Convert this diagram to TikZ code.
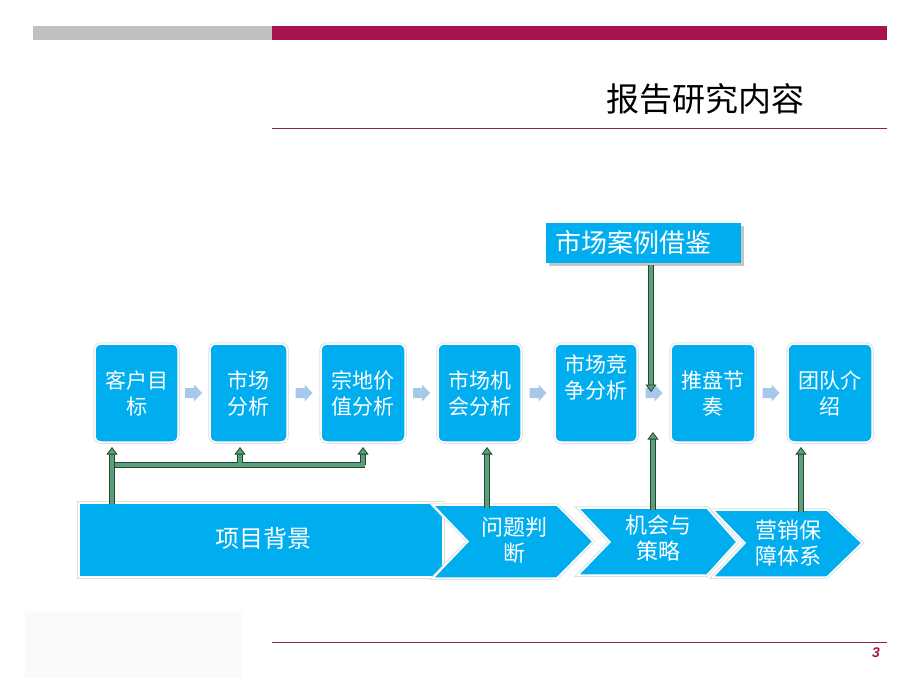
\documentclass[tikz,border=0pt]{standalone}
\usepackage{fontspec}
\setmainfont{Noto Sans CJK SC}
\newfontfamily\numfont{Liberation Sans}
\usetikzlibrary{arrows.meta,shadows}
\definecolor{crimson}{HTML}{A8124F}
\definecolor{lineclr}{HTML}{8A1F50}
\definecolor{bargray}{HTML}{C0C0C0}
\definecolor{boxblue}{HTML}{00AEEF}
\definecolor{pale}{HTML}{A7C8EA}
\definecolor{gdark}{HTML}{1E4A2E}
\definecolor{glight}{HTML}{5E9E7C}
\definecolor{footgray}{HTML}{FAFAFA}
\begin{document}
\begin{tikzpicture}[x=1pt,y=-1pt,
  stage/.style={rounded corners=6pt, fill=boxblue, draw=white, line width=1.5pt,
    preaction={draw=black!12, line width=3.5pt}, minimum height=98, text=white,
    align=center, font=\fontsize{21}{26}\selectfont, inner sep=2pt},
  flowpt/.style={coordinate},
  flowshape/.style={fill=pale},
  chev/.style={fill=boxblue, draw=white, line width=1.5pt, line join=miter,
    preaction={draw=black!12, line width=3.5pt}},
  ctext/.style={text=white, align=center, font=\fontsize{22}{26}\selectfont},
  garrow/.style={draw=gdark, line width=5.5pt, shorten >=6pt,
    postaction={draw=glight, line width=3.3pt, shorten >=5pt},
    postaction={draw=glight, line width=0.8pt, shorten >=0pt,
      -{Triangle[width=11pt, length=7.5pt, color=gdark, fill=glight]}}},
  gbar/.style={draw=gdark, line width=5.5pt,
    postaction={draw=glight, line width=3.3pt}},
  gbarin/.style={draw=glight, line width=3.3pt},
]
\useasboundingbox (0,0) rectangle (920,690);

% header bars
\fill[bargray] (33,26) rectangle (272,40);
\fill[crimson] (272,26) rectangle (887,40);
\node[anchor=center, font=\fontsize{33}{36}\selectfont] (title) at (705,99) {报告研究内容};
\draw[lineclr, line width=1pt] (272,128) -- (887,128);

% footer
\fill[footgray] (25,612) rectangle (242,678);
\draw[lineclr, line width=1pt] (272,642) -- (887,642);
\node[text=crimson, font=\numfont\bfseries\itshape\fontsize{14}{16}\selectfont] (pg) at (876,653) {3};

% stage boxes
\node[stage, minimum width=83] (b1) at (136.5,393) {客户目\\标};
\node[stage, minimum width=77] (b2) at (248.5,393) {市场\\分析};
\node[stage, minimum width=84] (b3) at (363,393) {宗地价\\值分析};
\node[stage, minimum width=83] (b4) at (479.5,393) {市场机\\会分析};
\node[stage, minimum width=82] (b5) at (596,393) {市场竞\\争分析\\\strut};
\node[stage, minimum width=84] (b6) at (713,393) {推盘节\\奏};
\node[stage, minimum width=84] (b7) at (830,393) {团队介\\绍};

% small flow arrows
\node[flowpt] (f1) at (193.5,393) {};
\node[flowpt] (f2) at (304,393) {};
\node[flowpt] (f3) at (421.5,393) {};
\node[flowpt] (f4) at (538,393) {};
\node[flowpt] (f5) at (654,393) {};
\node[flowpt] (f6) at (771,393) {};
\foreach \f in {f1,f2,f3,f4,f5,f6}{
  \fill[flowshape, shift={(\f)}] (-8.5,-5) -- (0.5,-5) -- (0.5,-8.5) -- (8.5,0)
    -- (0.5,8.5) -- (0.5,5) -- (-8.5,5) -- cycle;
}

% case box
\node[fill=boxblue, minimum width=195, minimum height=40, text width=177, inner xsep=9pt,
  align=left, text=white, font=\fontsize{26}{28}\selectfont,
  drop shadow={opacity=0.45, shadow xshift=2.5pt, shadow yshift=-2.5pt}] (case) at (643.5,243) {市场案例借鉴};

% bottom chevrons
\filldraw[chev] (79,503) rectangle (443,577);
\node[ctext, font=\fontsize{24}{28}\selectfont] (bg) at (263,538) {项目背景};
\filldraw[chev] (433,505) -- (557,505) -- (593,541.5) -- (557,578) -- (433,578) -- (468,541.5) -- cycle;
\node[ctext] (wt) at (514,540) {问题判\\断};
\filldraw[chev] (578,508) -- (707,508) -- (737,542) -- (707,575) -- (578,575) -- (610,542) -- cycle;
\node[ctext] (jh) at (658,538) {机会与\\策略};
\filldraw[chev] (713,510) -- (827,510) -- (862,543) -- (827,577) -- (713,577) -- (745,543) -- cycle;
\node[ctext] (yx) at (788,543) {营销保\\障体系};

% connector anchor points
\coordinate (s1) at (112,504);
\coordinate (e1) at (112,447);
\coordinate (barL) at (112,465);
\coordinate (barR) at (365,465);
\coordinate (s2) at (240,465);
\coordinate (e2) at (240,447);
\coordinate (s3) at (363,465);
\coordinate (e3) at (363,447);
\coordinate (s4) at (487,508);
\coordinate (e4) at (487,447);
\coordinate (s5) at (653,510);
\coordinate (e5) at (653,432);
\coordinate (s6) at (651,265);
\coordinate (e6) at (651,392);
\coordinate (s7) at (801,512);
\coordinate (e7) at (801,447);

% green connectors
\draw[gbar] (barL) -- (barR);
\draw[garrow] (s2) -- (e2);
\draw[garrow] (s3) -- (e3);
\draw[gbarin] (barL) -- (barR);
\draw[garrow] (s1) -- (e1);
\draw[garrow] (s4) -- (e4);
\draw[garrow] (s5) -- (e5);
\draw[garrow] (s6) -- (e6);
\draw[garrow] (s7) -- (e7);
\end{tikzpicture}
\end{document}
